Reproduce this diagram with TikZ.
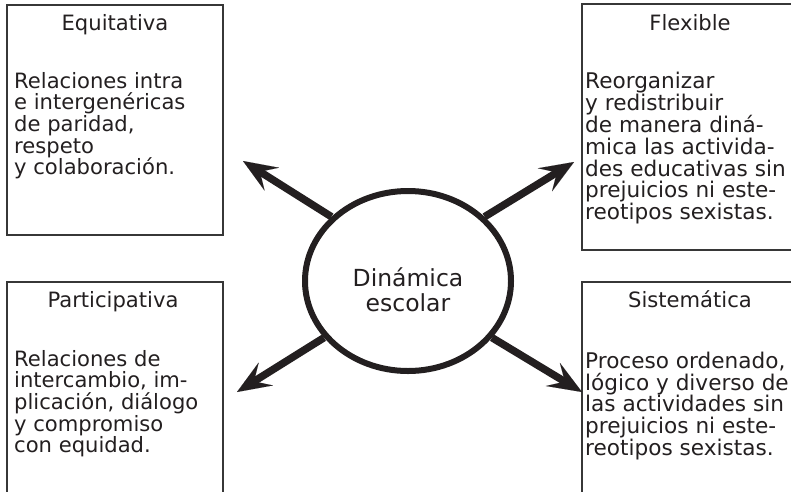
\documentclass[tikz,border=0pt]{standalone}
\usepackage{fontspec}
\setmainfont{DejaVu Sans}
\usetikzlibrary{arrows.meta,shapes.geometric}
\definecolor{ink}{RGB}{35,31,32}
\definecolor{frame}{RGB}{55,55,55}
\begin{document}
\begin{tikzpicture}[x=1pt,y=-1pt,
  txt/.style={text=ink, inner sep=0pt},
  lfont/.style={font=\fontsize{21.1}{21.6}\selectfont},
  rfont/.style={font=\fontsize{21.6}{21.6}\selectfont},
  boxnode/.style={draw=frame, line width=1.1pt, minimum width=216pt, inner sep=0pt},
  ttl/.style={txt, anchor=base, font=\fontsize{21.1}{21.6}\selectfont},
  body/.style={txt, anchor=north west, align=left, execute at begin node={\rule{0pt}{17pt}}},
  arr/.style={draw=ink, line width=7.5pt, -{Stealth[length=34pt, width=27pt, inset=14pt, line width=0.01pt]}},
  hub/.style={ellipse, draw=ink, line width=6pt, minimum width=206pt, minimum height=180pt, inner sep=0pt},
  hubtext/.style={txt, align=center, font=\fontsize{23.5}{25}\selectfont}
]
\useasboundingbox (0,0) rectangle (791,491);
\clip (0,0) rectangle (791,491);

% boxes
\node[boxnode, minimum height=230pt] (eq) at (115,120) {};
\node[boxnode, minimum height=246pt] (fl) at (690,127) {};
\node[boxnode, minimum height=218pt] (pa) at (115,391) {};
\node[boxnode, minimum height=218pt] (si) at (690,391) {};

% titles
\node[ttl] (eqt) at (115,30) {Equitativa};
\node[ttl] (flt) at (690,30) {Flexible};
\node[ttl] (pat) at (113,307) {Participativa};
\node[ttl] (sit) at (690,307) {Sistemática};

% bodies
\node[body, lfont] (eqb) at (14,72) {Relaciones intra\\e intergenéricas\\de paridad,\\respeto\\y colaboración.};
\node[body, rfont] (flb) at (585,72) {Reorganizar\\y redistribuir\\de manera diná-\\mica las activida-\\des educativas sin\\prejuicios ni este-\\reotipos sexistas.};
\node[body, lfont] (pab) at (14,350) {Relaciones de\\intercambio, im-\\plicación, diálogo\\y compromiso\\con equidad.};
\node[body, rfont] (sib) at (585,352) {Proceso ordenado,\\lógico y diverso de\\las actividades sin\\prejuicios ni este-\\reotipos sexistas.};

% hub
\node[hub] (c) at (408,281) {};
\node[hubtext] (ct) at (408,290) {Dinámica\\escolar};

% arrow tips
\coordinate (tl) at (243,161);
\coordinate (tr) at (574,162);
\coordinate (bl) at (237,392);
\coordinate (br) at (582,392);

\draw[arr] (c.140) -- (tl);
\draw[arr] (c.40) -- (tr);
\draw[arr] (c.214) -- (bl);
\draw[arr] (c.326) -- (br);
\end{tikzpicture}
\end{document}
